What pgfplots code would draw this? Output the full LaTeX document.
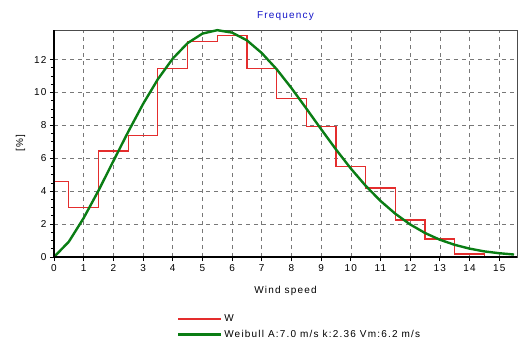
\documentclass[border=0pt]{standalone}
\usepackage{fontspec}
\setmainfont{Liberation Sans}[LetterSpace=12]
\usepackage{pgfplots}
\pgfplotsset{compat=1.18}

\definecolor{histred}{RGB}{228,45,45}
\definecolor{fitgreen}{RGB}{10,125,20}
\definecolor{titleblue}{RGB}{20,20,200}
\definecolor{gridgray}{RGB}{120,120,120}

\begin{document}
\begin{tikzpicture}[x=1pt,y=1pt]
\path[use as bounding box] (-54,-88) rectangle (467,257);
\begin{axis}[
  at={(0,0)}, anchor=south west,
  width=463pt, height=227pt, scale only axis,
  xmin=0, xmax=15.6, ymin=0, ymax=13.8,
  xtick={0,1,...,15}, ytick={0,2,...,12},
  minor y tick num=3,
  grid=major,
  major grid style={gridgray, line width=0.6pt, dash pattern=on 4pt off 4pt},
  axis line style={draw=black!70, line width=0.6pt},
  tick style={black, line width=0.8pt},
  major tick length=4pt, minor tick length=3pt,
  tick align=outside,
  xtick pos=bottom, ytick pos=left,
  ticklabel style={font=\fontsize{10}{11}\selectfont},
  /pgf/number format/assume math mode=true,
  xlabel={Wind speed}, ylabel={[\%]},
  label style={font=\fontsize{10}{11}\selectfont},
  xlabel style={yshift=-8pt},
  ylabel style={yshift=2pt},
  title={Frequency},
  title style={font=\fontsize{10}{11}\selectfont, text=titleblue, yshift=0pt},
  legend style={at={(0.265,-0.245)}, anchor=north west, draw=none, fill=none,
    font=\fontsize{10}{11}\selectfont, row sep=3pt, inner sep=0pt},
  legend cell align=left,
  legend image code/.code={\draw[#1] (0pt,0pt) -- (43pt,0pt);},
  clip=false,
]
% measured frequency per 1 m/s bin
\addplot[const plot, histred, line width=1.2pt] coordinates {
  (0,4.6) (0.5,3.0) (1.5,6.45) (2.5,7.4) (3.5,11.45) (4.5,13.1)
  (5.5,13.45) (6.5,11.45) (7.5,9.65) (8.5,7.95) (9.5,5.5)
  (10.5,4.2) (11.5,2.25) (12.5,1.1) (13.5,0.18) (14.5,0)
};
\addlegendentry{W}
% fitted Weibull distribution
\addplot[fitgreen, line width=2.4pt] coordinates {
  (0,0) (0.5,0.93) (1,2.37) (1.5,4.04) (2,5.83) (2.5,7.61) (3,9.30)
  (3.5,10.81) (4,12.06) (4.5,13.00) (5,13.58) (5.5,13.79) (6,13.64)
  (6.5,13.17) (7,12.40) (7.5,11.42) (8,10.27) (8.5,9.03) (9,7.77)
  (9.5,6.54) (10,5.38) (10.5,4.33) (11,3.41) (11.5,2.63) (12,1.98)
  (12.5,1.46) (13,1.05) (13.5,0.74) (14,0.51) (14.5,0.34) (15,0.23)
  (15.5,0.15)
};
\addlegendentry{Weibull A:7.0 m/s k:2.36 Vm:6.2 m/s}
% heavy left and bottom axis lines
\draw[black, line width=1.6pt] (rel axis cs:0,0) -- (rel axis cs:0,1);
\draw[black, line width=1.6pt] (rel axis cs:0,0) -- (rel axis cs:1,0);
\end{axis}
\end{tikzpicture}
\end{document}
